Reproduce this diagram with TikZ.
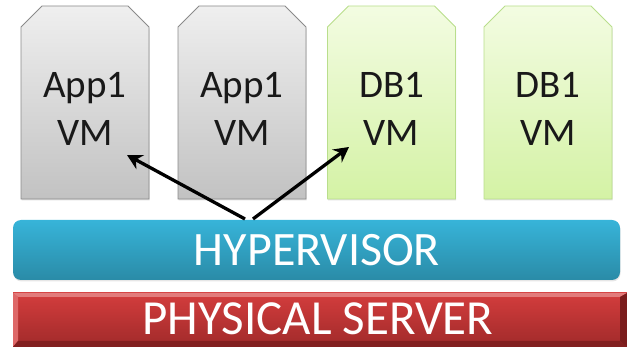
\documentclass[tikz,border=0pt]{standalone}
\usepackage{fontspec}
\setmainfont{Carlito}
\usetikzlibrary{arrows.meta,shadows}
\definecolor{vmgraytop}{HTML}{EFEFEF}
\definecolor{vmgraybot}{HTML}{C2C2C2}
\definecolor{vmgrayline}{HTML}{8A8A8A}
\definecolor{vmgreentop}{HTML}{F3FCE2}
\definecolor{vmgreenbot}{HTML}{D4F2A5}
\definecolor{vmgreenline}{HTML}{B9DE8C}
\definecolor{hyptop}{HTML}{37B4D9}
\definecolor{hypbot}{HTML}{2A8BA7}
\definecolor{phytop}{HTML}{D43D3D}
\definecolor{phybot}{HTML}{A02A2A}
\definecolor{phylight}{HTML}{E27B7B}
\definecolor{phydark}{HTML}{7A1C1C}
\tikzset{
  vmbase/.style={minimum width=128pt, minimum height=193pt, inner sep=0pt, outer sep=0pt},
  vmshade/.style={line width=0.8pt, drop shadow={shadow xshift=0.5pt, shadow yshift=-1.5pt, opacity=0.25}},
  grayvm/.style={vmshade, draw=vmgrayline, top color=vmgraytop, bottom color=vmgraybot},
  greenvm/.style={vmshade, draw=vmgreenline, top color=vmgreentop, bottom color=vmgreenbot},
  vmtext/.style={anchor=base, inner sep=0pt, font=\fontsize{39}{48}\selectfont, text=black!90},
  bartext/.style={anchor=base, inner sep=0pt, font=\fontsize{48}{56}\selectfont, text=white},
  arrowline/.style={line width=3.3pt, -{Stealth[length=15pt,width=16pt,inset=5pt]}},
}
\newcommand\vmoutline[2]{%
  \path[#2] (#1.south west) -- ([yshift=-21pt]#1.north west) -- ([xshift=21pt]#1.north west)
    -- ([xshift=-21pt]#1.north east) -- ([yshift=-21pt]#1.north east) -- (#1.south east) -- cycle;}
\begin{document}
\begin{tikzpicture}[x=1pt,y=-1pt]
\useasboundingbox (0,0) rectangle (627,347);
% VMs
\node[vmbase] (vm1) at (85,102.5) {};
\node[vmbase] (vm2) at (242,102.5) {};
\node[vmbase] (vm3) at (391.5,102.5) {};
\node[vmbase] (vm4) at (548,102.5) {};
\vmoutline{vm1}{grayvm}
\vmoutline{vm2}{grayvm}
\vmoutline{vm3}{greenvm}
\vmoutline{vm4}{greenvm}
\node[vmtext] (t1a) at (85,98) {App1};
\node[vmtext] (t1b) at (85,146) {VM};
\node[vmtext] (t2a) at (242,98) {App1};
\node[vmtext] (t2b) at (242,146) {VM};
\node[vmtext] (t3a) at (391.5,98) {DB1};
\node[vmtext] (t3b) at (391.5,146) {VM};
\node[vmtext] (t4a) at (548,98) {DB1};
\node[vmtext] (t4b) at (548,146) {VM};
% hypervisor
\node[rounded corners=8pt, minimum width=607pt, minimum height=60pt, inner sep=0pt, outer sep=0pt,
  top color=hyptop, bottom color=hypbot,
  drop shadow={shadow xshift=0.5pt, shadow yshift=-1.5pt, opacity=0.2}] (hyp) at (316.5,250) {};
\node[bartext] (hyptext) at (317,266) {HYPERVISOR};
% physical server
\node[minimum width=614pt, minimum height=54pt, inner sep=0pt, outer sep=0pt,
  top color=phytop, bottom color=phybot] (phy) at (320,320) {};
\fill[phylight] (phy.north west) -- (phy.north east) -- ([shift={(-7,4)}]phy.north east) -- ([shift={(5,4)}]phy.north west) -- cycle;
\fill[phylight!70!phytop] (phy.north west) -- ([shift={(5,4)}]phy.north west) -- ([shift={(5,-6)}]phy.south west) -- (phy.south west) -- cycle;
\fill[phydark] (phy.north east) -- ([shift={(-7,4)}]phy.north east) -- ([shift={(-7,-6)}]phy.south east) -- (phy.south east) -- cycle;
\fill[phydark!80!phybot] (phy.south west) -- ([shift={(5,-6)}]phy.south west) -- ([shift={(-7,-6)}]phy.south east) -- (phy.south east) -- cycle;
\node[bartext, font=\fontsize{49}{56}\selectfont] (phytext) at (318,335) {PHYSICAL SERVER};
% arrows
\coordinate (s1) at (245,219);
\coordinate (s2) at (253,219);
\coordinate (e1) at (127,155);
\coordinate (e2) at (349,147);
\draw[arrowline] (s1) -- (e1);
\draw[arrowline] (s2) -- (e2);
\end{tikzpicture}
\end{document}
